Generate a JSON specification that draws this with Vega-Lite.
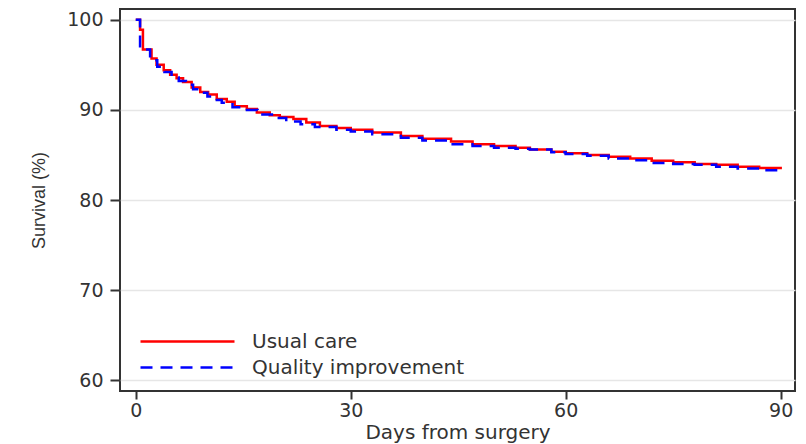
{
  "$schema": "https://vega.github.io/schema/vega-lite/v6.json",
  "width": 675,
  "height": 382,
  "autosize": {"type": "none"},
  "padding": {"left": 120, "top": 9, "right": 11, "bottom": 53},
  "background": "white",
  "config": {
    "view": {"stroke": "#333333", "strokeWidth": 2},
    "font": "DejaVu Sans"
  },
  "data": {"values": [
    {"day":0,"survival":100,"group":"Usual care"},
    {"day":0.6,"survival":98.9,"group":"Usual care"},
    {"day":1.0,"survival":96.7,"group":"Usual care"},
    {"day":2.2,"survival":95.7,"group":"Usual care"},
    {"day":2.9,"survival":95.0,"group":"Usual care"},
    {"day":3.9,"survival":94.4,"group":"Usual care"},
    {"day":4.8,"survival":93.9,"group":"Usual care"},
    {"day":5.7,"survival":93.5,"group":"Usual care"},
    {"day":6.6,"survival":93.1,"group":"Usual care"},
    {"day":7.8,"survival":92.5,"group":"Usual care"},
    {"day":9,"survival":92.0,"group":"Usual care"},
    {"day":10.1,"survival":91.7,"group":"Usual care"},
    {"day":11.3,"survival":91.2,"group":"Usual care"},
    {"day":12.7,"survival":90.9,"group":"Usual care"},
    {"day":13.8,"survival":90.4,"group":"Usual care"},
    {"day":15.5,"survival":90.1,"group":"Usual care"},
    {"day":16.9,"survival":89.7,"group":"Usual care"},
    {"day":18.7,"survival":89.4,"group":"Usual care"},
    {"day":20.1,"survival":89.2,"group":"Usual care"},
    {"day":22,"survival":89.0,"group":"Usual care"},
    {"day":23.8,"survival":88.6,"group":"Usual care"},
    {"day":25.7,"survival":88.2,"group":"Usual care"},
    {"day":28,"survival":88.0,"group":"Usual care"},
    {"day":30,"survival":87.8,"group":"Usual care"},
    {"day":33,"survival":87.5,"group":"Usual care"},
    {"day":37,"survival":87.1,"group":"Usual care"},
    {"day":40,"survival":86.8,"group":"Usual care"},
    {"day":44,"survival":86.5,"group":"Usual care"},
    {"day":47,"survival":86.2,"group":"Usual care"},
    {"day":50,"survival":86.0,"group":"Usual care"},
    {"day":53,"survival":85.8,"group":"Usual care"},
    {"day":55,"survival":85.6,"group":"Usual care"},
    {"day":58,"survival":85.35,"group":"Usual care"},
    {"day":60,"survival":85.2,"group":"Usual care"},
    {"day":63,"survival":85.0,"group":"Usual care"},
    {"day":66,"survival":84.8,"group":"Usual care"},
    {"day":69,"survival":84.6,"group":"Usual care"},
    {"day":72,"survival":84.35,"group":"Usual care"},
    {"day":75,"survival":84.2,"group":"Usual care"},
    {"day":78,"survival":84.0,"group":"Usual care"},
    {"day":81,"survival":83.9,"group":"Usual care"},
    {"day":84,"survival":83.7,"group":"Usual care"},
    {"day":87,"survival":83.55,"group":"Usual care"},
    {"day":90,"survival":83.4,"group":"Usual care"},
    {"day":0,"survival":100,"group":"Quality improvement"},
    {"day":0.6,"survival":96.7,"group":"Quality improvement"},
    {"day":2.0,"survival":95.5,"group":"Quality improvement"},
    {"day":3,"survival":94.8,"group":"Quality improvement"},
    {"day":4,"survival":94.2,"group":"Quality improvement"},
    {"day":5,"survival":93.6,"group":"Quality improvement"},
    {"day":6,"survival":93.2,"group":"Quality improvement"},
    {"day":7,"survival":92.8,"group":"Quality improvement"},
    {"day":8,"survival":92.3,"group":"Quality improvement"},
    {"day":9,"survival":91.9,"group":"Quality improvement"},
    {"day":10,"survival":91.5,"group":"Quality improvement"},
    {"day":11,"survival":91.1,"group":"Quality improvement"},
    {"day":12,"survival":90.8,"group":"Quality improvement"},
    {"day":13.5,"survival":90.3,"group":"Quality improvement"},
    {"day":15,"survival":90.0,"group":"Quality improvement"},
    {"day":17,"survival":89.5,"group":"Quality improvement"},
    {"day":19,"survival":89.1,"group":"Quality improvement"},
    {"day":21,"survival":88.7,"group":"Quality improvement"},
    {"day":23,"survival":88.4,"group":"Quality improvement"},
    {"day":25,"survival":88.1,"group":"Quality improvement"},
    {"day":28,"survival":87.8,"group":"Quality improvement"},
    {"day":30,"survival":87.6,"group":"Quality improvement"},
    {"day":33,"survival":87.3,"group":"Quality improvement"},
    {"day":37,"survival":86.9,"group":"Quality improvement"},
    {"day":40,"survival":86.6,"group":"Quality improvement"},
    {"day":44,"survival":86.2,"group":"Quality improvement"},
    {"day":47,"survival":86.0,"group":"Quality improvement"},
    {"day":50,"survival":85.8,"group":"Quality improvement"},
    {"day":53,"survival":85.7,"group":"Quality improvement"},
    {"day":55,"survival":85.6,"group":"Quality improvement"},
    {"day":58,"survival":85.3,"group":"Quality improvement"},
    {"day":60,"survival":85.1,"group":"Quality improvement"},
    {"day":63,"survival":84.9,"group":"Quality improvement"},
    {"day":66,"survival":84.6,"group":"Quality improvement"},
    {"day":69,"survival":84.4,"group":"Quality improvement"},
    {"day":72,"survival":84.1,"group":"Quality improvement"},
    {"day":75,"survival":84.0,"group":"Quality improvement"},
    {"day":78,"survival":83.9,"group":"Quality improvement"},
    {"day":81,"survival":83.7,"group":"Quality improvement"},
    {"day":84,"survival":83.5,"group":"Quality improvement"},
    {"day":87,"survival":83.3,"group":"Quality improvement"},
    {"day":90,"survival":83.2,"group":"Quality improvement"}
  ]},
  "mark": {"type": "line", "interpolate": "step-after", "strokeWidth": 2.5},
  "encoding": {
    "x": {
      "field": "day", "type": "quantitative",
      "scale": {"domain": [-2.2, 92], "nice": false, "zero": false},
      "axis": {
        "values": [0, 30, 60, 90], "grid": false, "domain": false,
        "title": "Days from surgery", "titleFont": "DejaVu Sans", "titleFontSize": 20,
        "titleFontWeight": "normal", "titleColor": "#333333", "titlePadding": 2,
        "labelFont": "DejaVu Sans", "labelFontSize": 19, "labelColor": "#333333",
        "labelPadding": 2, "tickSize": 8, "tickWidth": 2, "tickColor": "#333333"
      }
    },
    "y": {
      "field": "survival", "type": "quantitative",
      "scale": {"domain": [58.8, 101.2], "nice": false, "zero": false},
      "axis": {
        "values": [60, 70, 80, 90, 100], "grid": true, "gridColor": "#e6e6e6", "gridWidth": 1.5,
        "domain": false,
        "title": "Survival (%)", "titleFont": "Liberation Sans", "titleFontSize": 18,
        "titleFontWeight": "normal", "titleColor": "#333333", "titlePadding": 18,
        "labelFont": "DejaVu Sans", "labelFontSize": 19, "labelColor": "#333333",
        "labelPadding": 7, "tickSize": 10, "tickWidth": 2, "tickColor": "#333333"
      }
    },
    "color": {
      "field": "group", "type": "nominal",
      "scale": {"domain": ["Usual care", "Quality improvement"], "range": ["#ff0000", "#0000ff"]},
      "legend": {
        "title": null, "orient": "none", "legendX": 56, "legendY": 321,
        "symbolType": "M-4.7,0L4.7,0", "symbolSize": 400, "symbolStrokeWidth": 2.5,
        "symbolFillColor": "transparent",
        "labelFont": "DejaVu Sans", "labelFontSize": 20, "labelColor": "#333333",
        "labelOffset": 53, "labelLimit": 400, "rowPadding": 4
      }
    },
    "strokeDash": {
      "field": "group", "type": "nominal",
      "scale": {"domain": ["Usual care", "Quality improvement"], "range": [[1, 0], [12, 8]]},
      "legend": null
    }
  }
}
